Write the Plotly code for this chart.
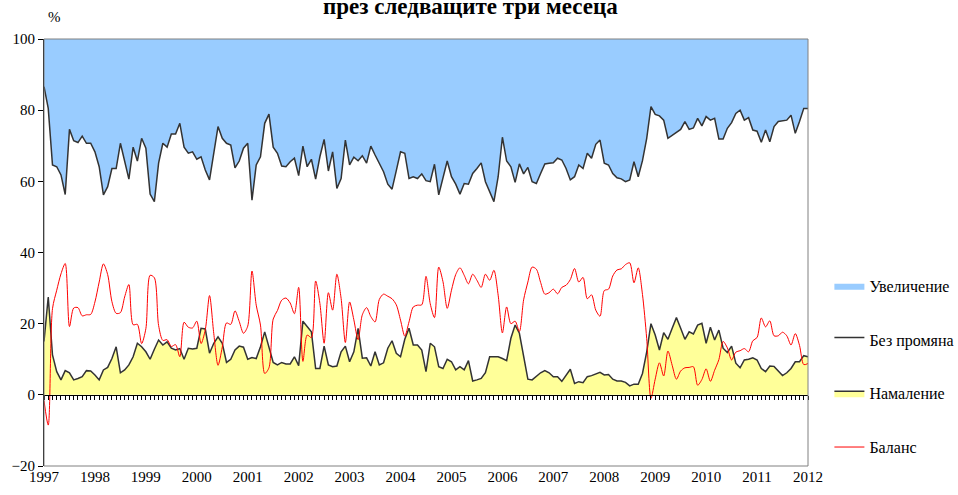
import plotly.graph_objects as go

# ---- data (monthly, Jan 1997 .. Jan 2012) ----
year_labels = ["1997", "1998", "1999", "2000", "2001", "2002", "2003", "2004",
               "2005", "2006", "2007", "2008", "2009", "2010", "2011", "2012"]

namalenie = [15.0, 27.5, 11.2, 6.5, 4.2, 6.8, 6.2, 4.2, 4.6, 5.1, 6.8, 6.7,
             5.6, 4.2, 7.0, 7.7, 10.2, 13.5, 6.2, 7.0, 8.4, 10.7, 14.5, 13.5,
             12.1, 10.0, 12.8, 15.4, 14.0, 14.9, 13.1, 12.6, 13.0, 10.0, 13.1, 12.9,
             13.1, 18.7, 18.5, 11.7, 14.5, 16.3, 14.5, 9.1, 10.0, 12.6, 13.7, 13.4,
             10.0, 10.5, 10.2, 13.5, 17.7, 13.5, 9.1, 8.4, 9.1, 8.7, 8.7, 10.7,
             8.2, 20.7, 19.1, 17.7, 7.4, 7.4, 13.7, 8.4, 7.9, 8.1, 12.1, 13.7,
             9.3, 12.1, 18.7, 10.3, 10.4, 8.1, 12.1, 8.4, 9.0, 13.1, 15.2, 11.7,
             10.7, 15.6, 18.7, 14.0, 14.0, 12.6, 6.5, 14.5, 13.5, 7.9, 7.4, 10.0,
             9.3, 7.0, 7.9, 7.0, 9.6, 3.9, 4.2, 4.6, 6.2, 10.7, 10.7, 10.7,
             10.2, 9.6, 15.9, 19.6, 17.3, 11.2, 4.4, 4.2, 5.3, 6.2, 6.8, 6.2,
             5.1, 5.1, 3.8, 5.6, 7.2, 3.2, 3.7, 3.4, 5.1, 5.4, 5.8, 6.3,
             5.6, 5.7, 4.4, 3.9, 3.9, 3.5, 2.5, 3.0, 3.0, 6.0, 12.1, 20.0,
             16.8, 12.6, 17.5, 15.6, 18.7, 21.7, 18.7, 15.6, 17.7, 17.1, 19.6, 20.1,
             14.5, 19.0, 15.4, 18.2, 13.1, 11.9, 13.7, 8.9, 7.6, 9.8, 10.0, 10.4,
             9.8, 7.4, 6.5, 8.1, 8.0, 6.6, 5.4, 6.2, 7.4, 9.3, 9.3, 11.0,
             10.7]

bez_promyana = [71.6, 53.0, 53.4, 57.6, 57.6, 49.5, 68.4, 67.2, 66.3, 67.6, 63.9, 64.0,
                62.7, 59.9, 49.2, 50.8, 53.4, 50.1, 64.5, 58.5, 52.2, 58.9, 51.2, 58.6,
                57.2, 46.4, 41.5, 49.7, 56.7, 54.7, 60.2, 60.7, 63.3, 59.6, 54.8, 55.4,
                53.1, 48.2, 44.7, 48.7, 53.8, 59.1, 57.6, 61.6, 60.2, 51.2, 52.0, 55.9,
                60.7, 44.2, 54.4, 53.4, 58.6, 65.4, 60.5, 59.5, 55.2, 55.4, 56.8, 55.8,
                53.4, 49.2, 45.0, 48.5, 53.2, 59.5, 58.1, 54.5, 60.4, 49.9, 48.7, 57.9,
                55.3, 54.7, 47.1, 56.9, 54.7, 61.8, 55.3, 56.4, 53.7, 46.1, 42.6, 51.3,
                57.6, 52.3, 42.1, 47.3, 46.8, 49.5, 53.7, 45.4, 51.3, 48.3, 53.4, 55.7,
                52.0, 52.2, 48.5, 52.4, 49.6, 58.3, 59.4, 60.6, 53.7, 46.4, 43.6, 50.6,
                62.2, 56.1, 48.2, 40.1, 47.6, 50.9, 59.5, 55.7, 54.1, 56.0, 58.1, 58.9,
                60.1, 61.4, 62.2, 58.0, 53.2, 58.1, 60.9, 60.2, 62.8, 61.1, 64.6, 65.3,
                59.5, 58.9, 57.8, 57.1, 56.8, 56.4, 57.9, 62.5, 58.3, 59.8, 60.0, 61.0,
                62.0, 65.8, 59.7, 56.5, 54.3, 52.2, 55.9, 61.2, 56.9, 57.9, 58.1, 55.5,
                63.7, 58.2, 62.3, 53.7, 58.8, 63.0, 62.8, 70.2, 72.4, 67.4, 67.9, 64.0,
                64.3, 63.6, 67.9, 63.0, 67.4, 70.2, 71.6, 71.0, 71.2, 64.2, 67.5, 69.5,
                69.8]

uvelichenie = [13.4, 19.5, 35.4, 35.9, 38.2, 43.7, 25.4, 28.6, 29.1, 27.3, 29.3, 29.3,
               31.7, 35.9, 43.8, 41.5, 36.4, 36.4, 29.3, 34.5, 39.4, 30.4, 34.3, 27.9,
               30.7, 43.6, 45.7, 34.9, 29.3, 30.4, 26.7, 26.7, 23.7, 30.4, 32.1, 31.7,
               33.8, 33.1, 36.8, 39.6, 31.7, 24.6, 27.9, 29.3, 29.8, 36.2, 34.3, 30.7,
               29.3, 45.3, 35.4, 33.1, 23.7, 21.1, 30.4, 32.1, 35.7, 35.9, 34.5, 33.5,
               38.4, 30.1, 35.9, 33.8, 39.4, 33.1, 28.2, 37.1, 31.7, 42.0, 39.2, 28.4,
               35.4, 33.2, 34.2, 32.8, 34.9, 30.1, 32.6, 35.2, 37.3, 40.8, 42.2, 37.0,
               31.7, 32.1, 39.2, 38.7, 39.2, 37.9, 39.8, 40.1, 35.2, 43.8, 39.2, 34.3,
               38.7, 40.8, 43.6, 40.6, 40.8, 37.8, 36.4, 34.8, 40.1, 42.9, 45.7, 38.7,
               27.6, 34.3, 35.9, 40.3, 35.1, 37.9, 36.1, 40.1, 40.6, 37.8, 35.1, 34.9,
               34.8, 33.5, 34.0, 36.4, 39.6, 38.7, 35.4, 36.4, 32.1, 33.5, 29.6, 28.4,
               34.9, 35.4, 37.8, 39.0, 39.3, 40.1, 39.6, 34.5, 38.7, 34.2, 27.9, 19.0,
               21.2, 21.6, 22.8, 27.9, 27.0, 26.1, 25.4, 23.2, 25.4, 25.0, 22.3, 24.4,
               21.8, 22.8, 22.3, 28.1, 28.1, 25.1, 23.5, 20.9, 20.0, 22.8, 22.1, 25.6,
               25.9, 29.0, 25.6, 28.9, 24.6, 23.2, 23.0, 22.8, 21.4, 26.5, 23.2, 19.5,
               19.5]

balans = [-1.6, -8.5, 24.2, 29.4, 34.0, 36.9, 19.2, 24.4, 24.5, 22.2, 22.5, 22.6,
          26.1, 31.7, 36.8, 33.8, 26.2, 22.9, 23.1, 27.5, 31.0, 19.7, 19.8, 14.4,
          18.6, 33.6, 32.9, 19.5, 15.3, 15.5, 13.6, 14.1, 10.7, 20.4, 19.0, 18.8,
          20.7, 14.4, 18.3, 27.9, 17.2, 8.3, 13.4, 20.2, 19.8, 23.6, 20.6, 17.3,
          19.3, 34.8, 25.2, 19.6, 6.0, 7.6, 21.3, 23.7, 26.6, 27.2, 25.8, 22.8,
          30.2, 9.4, 16.8, 16.1, 32.0, 25.7, 14.5, 28.7, 23.8, 33.9, 27.1, 14.7,
          26.1, 21.1, 15.5, 22.5, 24.5, 22.0, 20.5, 26.8, 28.3, 27.7, 27.0, 25.3,
          21.0, 16.5, 20.5, 24.7, 25.2, 25.3, 33.3, 25.6, 21.7, 35.9, 31.8, 24.3,
          29.4, 33.8, 35.7, 33.6, 31.2, 33.9, 32.2, 30.2, 33.9, 32.2, 35.0, 28.0,
          17.4, 24.7, 20.0, 20.7, 17.8, 26.7, 31.7, 35.9, 35.3, 31.6, 28.3, 28.7,
          29.7, 28.4, 30.2, 30.8, 32.4, 35.5, 31.7, 33.0, 27.0, 28.1, 23.8, 22.1,
          29.3, 29.7, 33.4, 35.1, 35.4, 36.6, 37.1, 31.5, 35.7, 28.2, 15.8, -1.0,
          4.4, 9.0, 5.3, 12.3, 8.3, 4.4, 6.7, 7.6, 7.7, 7.9, 2.7, 4.3,
          7.3, 3.8, 6.9, 9.9, 15.0, 13.2, 9.8, 12.0, 12.4, 13.0, 12.1, 15.2,
          16.1, 21.6, 19.1, 20.8, 16.6, 16.6, 17.6, 16.6, 14.0, 17.2, 13.9, 8.5,
          8.8]

month_index = list(range(len(namalenie)))
year_ticks = month_index[::12]

SERIF = "Times New Roman, Liberation Serif, serif"
LINE = "#333333"

fig = go.Figure()
fig.add_trace(go.Scatter(x=month_index, y=namalenie, name="Намаление", stackgroup="s",
                         mode="lines", line=dict(color=LINE, width=1.5),
                         fillcolor="#FFFF99", legendgroup="c", legendrank=3))
fig.add_trace(go.Scatter(x=month_index, y=bez_promyana, name="Без промяна", stackgroup="s",
                         mode="lines", line=dict(color=LINE, width=1.5),
                         fillcolor="#FFFFFF", legendgroup="b", legendrank=2))
fig.add_trace(go.Scatter(x=month_index, y=uvelichenie, name="Увеличение", stackgroup="s",
                         mode="lines", line=dict(color="#99CCFF", width=0),
                         fillcolor="#99CCFF", legendgroup="a", legendrank=1))
fig.add_trace(go.Scatter(x=month_index, y=balans, name="Баланс", mode="lines",
                         line=dict(color="#FF0000", width=1, shape="spline", smoothing=0.8),
                         xaxis="x2", legendgroup="d", legendrank=4))

fig.update_layout(
    width=958, height=495,
    margin=dict(l=44, r=150, t=39, b=29, autoexpand=False),
    paper_bgcolor="white", plot_bgcolor="white",
    font=dict(family=SERIF, color="black", size=14),
    showlegend=True,
    legend=dict(x=1.028, xanchor="left", y=0.462, yanchor="top", itemwidth=30,
                tracegroupgap=30, font=dict(family=SERIF, size=16, color="black"),
                bgcolor="rgba(0,0,0,0)"),
    xaxis=dict(range=[0, 180], tickmode="array", tickvals=year_ticks, ticktext=year_labels,
               showgrid=False, zeroline=False, showline=False, ticks="", automargin=False,
               tickfont=dict(family=SERIF, size=15, color="black")),
    xaxis2=dict(range=[0, 180], overlaying="x", anchor="free", position=1 / 6,
                showgrid=False, zeroline=False, showline=True, linecolor="black", linewidth=1,
                ticks="outside", ticklen=4, tickcolor="black", tickwidth=1, automargin=False,
                tickmode="linear", tick0=0, dtick=1, showticklabels=False),
    yaxis=dict(range=[-20, 100], tickmode="linear", tick0=-20, dtick=20, automargin=False,
               showgrid=False, zeroline=False, showline=True, linecolor="black", linewidth=1,
               ticks="outside", ticklen=5, tickcolor="black",
               tickfont=dict(family=SERIF, size=15, color="black")),
    shapes=[dict(type="rect", xref="paper", yref="paper", x0=0, x1=1, y0=0, y1=1,
                 line=dict(color="#808080", width=1), layer="above")],
    annotations=[
        dict(text="<b>през следващите три месеца</b>", xref="paper", yref="paper",
             x=0.5576, y=1.0413, xanchor="center", yanchor="bottom", showarrow=False,
             font=dict(family=SERIF, size=23, color="black")),
        dict(text="%", xref="paper", yref="paper", x=0.003, y=1.027, xanchor="left",
             yanchor="bottom", showarrow=False, font=dict(family=SERIF, size=15, color="black")),
    ],
)

fig.write_html("out.html", config={"displayModeBar": False},
               post_script="document.body.style.margin='0px';")
